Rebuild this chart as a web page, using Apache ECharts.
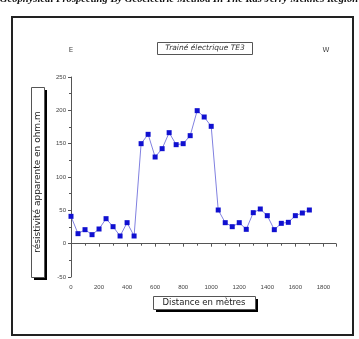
<!DOCTYPE html>
<html>
<head>
<meta charset="utf-8">
<script src="https://cdn.jsdelivr.net/npm/echarts@6/dist/echarts.min.js"></script>
<style>
html,body{margin:0;padding:0;background:#fff;}
#c{width:359px;height:339px;}
</style>
</head>
<body>
<div id="c"></div>
<script>
const distances = [0,50,100,150,200,250,300,350,400,450,500,550,600,650,700,750,800,850,900,950,1000,1050,1100,1150,1200,1250,1300,1350,1400,1450,1500,1550,1600,1650,1700];
const resistivity = [41,15,21,13.5,22,37.5,25.5,11.5,31.5,11.5,150,164,130,142.5,166.5,148.5,150,162,199.5,190,176,50.5,31.5,25.5,31.5,21.5,46.5,52,42,21,30.5,32,42,46,50.5];
const xTicks = [0,200,400,600,800,1000,1200,1400,1600,1800];
const yTicks = [-50,0,50,100,150,200,250];

const headerText = 'Geophysical Prospecting By Geoelectric Method In The Ras Jerry Meknes Region';
const captionText = 'Figure 5: Profil de trainé électrique TE3';
const titleText = 'Trainé électrique TE3';
const yLabel = 'résistivité apparente en ohm.m';
const xLabel = 'Distance en mètres';

const chart = echarts.init(document.getElementById('c'));
const axisColor = '#555';
chart.setOption({
  animation: false,
  grid: {left: 71, top: 77, right: 23, bottom: 62},
  xAxis: {
    type: 'value', min: 0, max: 1890, interval: 200,
    axisLine: {lineStyle: {color: axisColor, width: 1}},
    axisTick: {length: 3, lineStyle: {color: axisColor}},
    minorTick: {show: true, splitNumber: 2, length: 2, lineStyle: {color: axisColor}},
    splitLine: {show: false},
    axisLabel: {fontSize: 6, color: '#444', fontFamily: 'Liberation Sans', margin: 7,
      formatter: v => xTicks.indexOf(v) >= 0 ? String(v) : ''}
  },
  yAxis: {
    type: 'value', min: -50, max: 250, interval: 50,
    axisLine: {show: true, lineStyle: {color: axisColor, width: 1}},
    axisTick: {show: true, length: 3, lineStyle: {color: axisColor}},
    minorTick: {show: true, splitNumber: 2, length: 2, lineStyle: {color: axisColor}},
    splitLine: {show: false},
    axisLabel: {fontSize: 6, color: '#444', fontFamily: 'Liberation Sans', margin: 5,
      formatter: v => yTicks.indexOf(v) >= 0 ? String(v) : ''}
  },
  series: [{
    type: 'line',
    data: distances.map((d, i) => [d, resistivity[i]]),
    symbol: 'rect', symbolSize: 5,
    itemStyle: {color: '#1010d0'},
    lineStyle: {color: '#8080e0', width: 1}
  }],
  graphic: [
    {type: 'text', x: 179, y: 5, style: {text: headerText, font: 'italic bold 10.6px "Liberation Serif"', fill: '#111', align: 'center', verticalAlign: 'bottom'}},
    {type: 'rect', shape: {x: 12, y: 17, width: 341, height: 318}, style: {fill: 'none', stroke: '#222', lineWidth: 2}},
    {type: 'text', x: 181, y: 338.3, style: {text: captionText, font: 'bold 10px "Liberation Serif"', fill: '#111', align: 'center', verticalAlign: 'top'}},
    // title box
    {type: 'rect', shape: {x: 157.5, y: 42.5, width: 95, height: 12}, style: {fill: '#fff', stroke: '#555', lineWidth: 1}},
    {type: 'text', x: 205, y: 48.5, style: {text: titleText, font: 'italic 7.5px "DejaVu Sans"', fill: '#333', align: 'center', verticalAlign: 'middle'}},
    // E / W
    {type: 'text', x: 71, y: 50, style: {text: 'E', font: '7px "DejaVu Sans"', fill: '#444', align: 'center', verticalAlign: 'middle'}},
    {type: 'text', x: 326, y: 50, style: {text: 'W', font: '7px "DejaVu Sans"', fill: '#444', align: 'center', verticalAlign: 'middle'}},
    // y label box with shadow
    {type: 'rect', shape: {x: 34, y: 90, width: 13, height: 190}, style: {fill: '#000'}},
    {type: 'rect', shape: {x: 31.5, y: 87.5, width: 13, height: 190}, style: {fill: '#fff', stroke: '#555', lineWidth: 1}},
    {type: 'text', x: 38, y: 182, rotation: Math.PI / 2, style: {text: yLabel, font: '9px "DejaVu Sans"', fill: '#222', align: 'center', verticalAlign: 'middle'}},
    // x label box with shadow
    {type: 'rect', shape: {x: 156, y: 299, width: 102, height: 13}, style: {fill: '#000'}},
    {type: 'rect', shape: {x: 153.5, y: 296.5, width: 102, height: 13}, style: {fill: '#fff', stroke: '#555', lineWidth: 1}},
    {type: 'text', x: 204, y: 303, style: {text: xLabel, font: '8.5px "DejaVu Sans"', fill: '#222', align: 'center', verticalAlign: 'middle'}}
  ]
});
</script>
</body>
</html>
